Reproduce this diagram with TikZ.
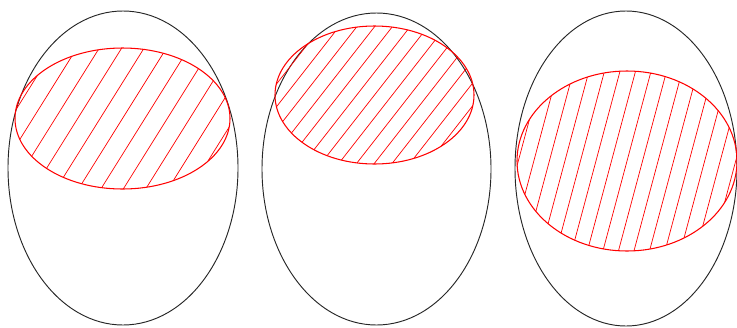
\documentclass[tikz,border=0pt]{standalone}
\usepackage{tikz}

\begin{document}
\begin{tikzpicture}[
    x=0.03cm,
    y=-0.03cm,
    outer/.style={draw=black!85, line width=0.8pt},
    region/.style={draw=red, line width=0.9pt},
    hatch/.style={draw=red, line width=0.6pt}
  ]
    \useasboundingbox (0,0) rectangle (737,327);

    % left
    \draw[outer] (123,168) ellipse [x radius=115, y radius=157];
    \begin{scope}
      \clip (122.5,118.5) ellipse [x radius=107.5, y radius=70.5];
      \begin{scope}[shift={(122.5,118.5)}, rotate=-32]
        \foreach \t in {-8,...,8}
          \draw[hatch] (\t*19,-200) -- (\t*19,200);
      \end{scope}
    \end{scope}
    \draw[region] (122.5,118.5) ellipse [x radius=107.5, y radius=70.5];

    % middle
    \draw[outer] (376.5,169) ellipse [x radius=114.5, y radius=156];
    \begin{scope}
      \clip (374.5,95) ellipse [x radius=99.5, y radius=69];
      \begin{scope}[shift={(374.5,95)}, rotate=-38]
        \foreach \t in {-10,...,10}
          \draw[hatch] (\t*14,-200) -- (\t*14,200);
      \end{scope}
    \end{scope}
    \draw[region] (374.5,95) ellipse [x radius=99.5, y radius=69];

    % right
    \draw[outer] (626,168.5) ellipse [x radius=111, y radius=157.5];
    \begin{scope}
      \clip (627,161) ellipse [x radius=110, y radius=90];
      \begin{scope}[shift={(627,161)}, rotate=-15]
        \foreach \t in {-10,...,10}
          \draw[hatch] (\t*15,-200) -- (\t*15,200);
      \end{scope}
    \end{scope}
    \draw[region] (627,161) ellipse [x radius=110, y radius=90];
  \end{tikzpicture}
\end{document}
